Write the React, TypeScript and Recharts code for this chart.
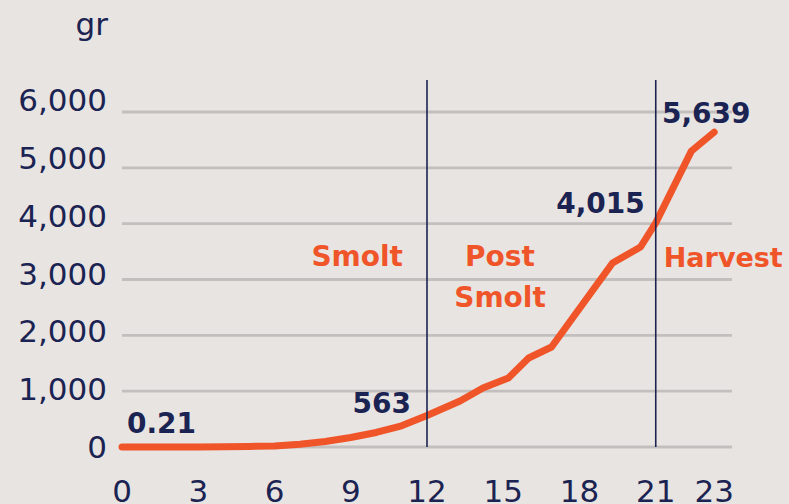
import React from "react";
import {
  LineChart,
  Line,
  XAxis,
  YAxis,
  CartesianGrid,
  ReferenceLine,
  ReferenceDot,
} from "recharts";

// ---- data ----
const months = [0, 1, 2, 3, 4, 5, 6, 7, 8, 9, 10, 11, 12, 13.3, 14.2, 15.2, 16, 16.9, 19.3, 20.4, 21, 22.4, 23.3];
const weights = [0.21, 0.5, 1, 2, 5, 10, 20, 50, 100, 170, 260, 380, 563, 824, 1057, 1236, 1594, 1791, 3296, 3582, 4015, 5300, 5639];
const annotatedMonths = [0, 12, 21, 23.3];
const phaseBoundaries = [12, 21];
const xTicks = [0, 3, 6, 9, 12, 15, 18, 21, 23.3];
const yTicks = [0, 1000, 2000, 3000, 4000, 5000, 6000];
const yDomain = [0, 6573];
const unitLabel = "gr";

const data = months.map((m, i) => ({ m, g: weights[i] }));

// ---- style ----
const BG = "#e8e4e1";
const NAVY = "#1b2352";
const ORANGE = "#f0552a";
const GRID = "#c2bfbe";
const FONT = "DejaVu Sans";

const annotationStyle = [
  { dx: 5, dy: -14, anchor: "start" },
  { dx: -16, dy: -3, anchor: "end" },
  { dx: -11, dy: -10, anchor: "end" },
  { dx: -8, dy: -9, anchor: "middle" },
];

const fmt = (v: number) => v.toLocaleString("en-US");

const phaseLabel12 = (props: any) => {
  const { viewBox } = props;
  const x = viewBox.x;
  const y = viewBox.y;
  const common = { fill: ORANGE, fontSize: 28, fontWeight: 700, fontFamily: FONT };
  return (
    <g>
      <text x={x - 24} y={y + 186} textAnchor="end" {...common}>Smolt</text>
      <text x={x + 73} y={y + 186} textAnchor="middle" {...common}>Post</text>
      <text x={x + 73} y={y + 227} textAnchor="middle" {...common}>Smolt</text>
    </g>
  );
};

const phaseLabel21 = (props: any) => {
  const { viewBox } = props;
  return (
    <text x={viewBox.x + 8} y={viewBox.y + 187} textAnchor="start" fill={ORANGE} fontSize={27} fontWeight={700} fontFamily={FONT}>
      Harvest
    </text>
  );
};

const makeValueLabel = (text: string, idx: number) => (props: any) => {
  const { viewBox } = props;
  const s = annotationStyle[idx];
  const cx = viewBox.x + (viewBox.width || 0) / 2;
  const cy = viewBox.y + (viewBox.height || 0) / 2;
  return (
    <text x={cx + s.dx} y={cy + s.dy} textAnchor={s.anchor} fill={NAVY} fontSize={28} fontWeight={700} fontFamily={FONT}>
      {text}
    </text>
  );
};

const unitLabelContent = (props: any) => {
  const { viewBox } = props;
  return (
    <text x={viewBox.x + viewBox.width - 14} y={viewBox.y - 45} textAnchor="end" fill={NAVY} fontSize={31} fontFamily={FONT}>
      {unitLabel}
    </text>
  );
};

// y tick labels sit slightly above their grid lines, more so higher up
const YTick = (props: any) => {
  const { x, y, payload } = props;
  const lift = (payload.value / 6000) * 12;
  return (
    <text x={x} y={y - lift} dy="0.355em" textAnchor="end" fill={NAVY} fontSize={31} fontFamily={FONT}>
      {fmt(payload.value)}
    </text>
  );
};

// grid rows only at the labelled ticks (no line at the top of the domain)
const gridRows = (props: any) => {
  const s = props?.yAxis?.scale;
  if (typeof s === "function") return yTicks.map((t) => s(t));
  if (s && typeof s.map === "function") return yTicks.map((t) => s.map(t));
  const off = props?.offset;
  if (!off) return [];
  return yTicks.map((t) => off.top + off.height * (1 - (t - yDomain[0]) / (yDomain[1] - yDomain[0])));
};

export default function App() {
  return (
    <div style={{ position: "absolute", left: 0, top: 0, width: 789, height: 504, background: BG, overflow: "hidden" }}>
      <LineChart
        width={789}
        height={504}
        data={data}
        margin={{ top: 80, right: 57, left: 0, bottom: 0 }}
        style={{ background: BG, fontFamily: FONT }}
      >
        <CartesianGrid
          horizontal
          vertical={false}
          stroke={GRID}
          strokeWidth={2.8}
          horizontalCoordinatesGenerator={gridRows}
        />
        <XAxis
          dataKey="m"
          type="number"
          domain={[0, 24]}
          ticks={xTicks}
          interval={0}
          tickFormatter={(v: number) => String(Math.round(v))}
          axisLine={false}
          tickLine={false}
          tickSize={6}
          tickMargin={27}
          height={57}
          tick={{ fill: NAVY, fontSize: 31, fontFamily: FONT }}
        />
        <YAxis
          domain={yDomain}
          ticks={yTicks}
          interval={0}
          width={122}
          axisLine={false}
          tickLine={false}
          tickSize={6}
          tickMargin={9}
          tick={<YTick />}
          label={{ content: unitLabelContent }}
        />
        <Line
          dataKey="g"
          type="linear"
          stroke={ORANGE}
          strokeWidth={7}
          strokeLinecap="round"
          strokeLinejoin="round"
          dot={false}
          activeDot={false}
          isAnimationActive={false}
        />
        <ReferenceLine x={phaseBoundaries[0]} stroke={NAVY} strokeWidth={1.6} label={{ content: phaseLabel12 }} />
        <ReferenceLine x={phaseBoundaries[1]} stroke={NAVY} strokeWidth={1.6} label={{ content: phaseLabel21 }} />
        {annotatedMonths.map((m, i) => {
          const idx = months.indexOf(m);
          const v = weights[idx];
          return (
            <ReferenceDot
              key={m}
              x={m}
              y={v}
              r={0}
              fill="none"
              stroke="none"
              label={{ content: makeValueLabel(fmt(v), i) }}
            />
          );
        })}
      </LineChart>
    </div>
  );
}
